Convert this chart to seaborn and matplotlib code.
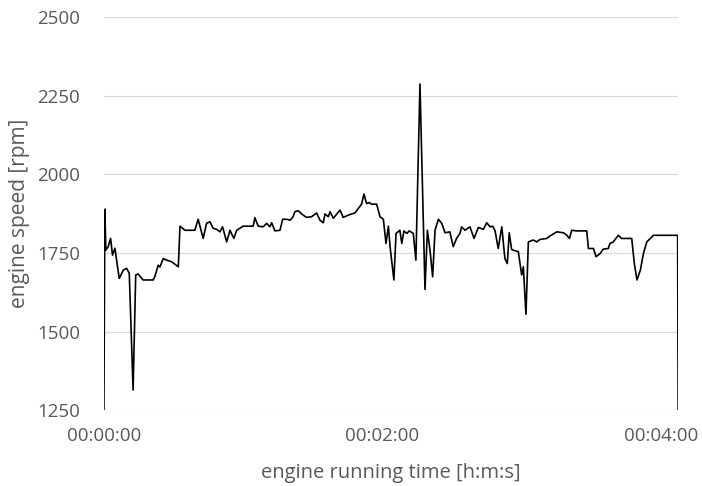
import numpy as np
import pandas as pd
import matplotlib
matplotlib.use('Agg')
import matplotlib.pyplot as plt
import matplotlib.transforms as mtransforms
import seaborn as sns
from matplotlib.ticker import FuncFormatter

# time [s] and engine speed [rpm]
time_s = [0.0, 0.4, 0.8, 1.8, 2.8, 3.6, 4.6, 6.4, 8.1, 9.5, 10.6, 12.2, 13.3, 14.3,
          16.4, 20.6, 21.3, 22.7, 23.4, 24.8, 26.2, 28.3, 31.1, 31.8, 33.9, 38.0,
          39.4, 41.5, 42.9, 44.3, 45.7, 47.1, 48.5, 49.6, 51.3, 52.7, 54.3, 55.5,
          58.2, 62.4, 63.1, 64.5, 66.6, 68.0, 69.4, 70.1, 71.5, 73.6, 74.7, 76.4,
          77.8, 79.1, 79.8, 81.2, 83.3, 84.7, 86.8, 88.9, 90.3, 91.7, 92.4, 93.8,
          94.5, 95.9, 96.6, 98.7, 100.0, 102.1, 103.6, 104.9, 106.3, 107.7, 108.7,
          109.8, 110.9, 111.9, 114.0, 115.4, 116.8, 117.9, 118.9, 119.6, 121.2,
          122.1, 123.7, 124.5, 125.4, 126.6, 127.6, 129.3, 130.4, 132.1, 134.2,
          135.2, 136.3, 137.4, 138.4, 139.8, 141.2, 142.6, 144.6, 146.0, 147.4,
          148.8, 149.5, 150.9, 153.0, 154.7, 156.5, 158.6, 160.0, 161.4, 162.5,
          163.5, 164.8, 166.3, 167.6, 168.6, 169.4, 170.4, 171.8, 173.2, 174.6,
          175.3, 176.4, 177.4, 179.5, 180.9, 182.3, 185.1, 186.5, 189.3, 192.1,
          193.5, 194.6, 195.5, 197.6, 201.8, 202.5, 204.6, 205.7, 207.4, 208.7,
          210.8, 211.5, 212.9, 215.0, 216.4, 220.6, 221.7, 222.8, 224.2, 225.5,
          226.9, 229.7, 239.8, 240.0]
engine_rpm = [1250, 1889, 1759, 1770, 1796, 1743, 1765, 1669, 1695, 1701, 1685, 1314, 1680, 1683,
              1664, 1664, 1675, 1711, 1705, 1732, 1727, 1722, 1706, 1835, 1822, 1822,
              1857, 1796, 1844, 1849, 1828, 1825, 1817, 1833, 1785, 1822, 1796, 1822,
              1835, 1835, 1862, 1835, 1833, 1844, 1833, 1846, 1820, 1822, 1857, 1857,
              1854, 1865, 1881, 1884, 1870, 1863, 1865, 1877, 1854, 1846, 1874, 1865,
              1881, 1860, 1867, 1886, 1863, 1870, 1874, 1877, 1891, 1905, 1937,
              1907, 1910, 1905, 1905, 1865, 1857, 1780, 1835, 1770, 1664,
              1812, 1822, 1780, 1820, 1812, 1820, 1812, 1727, 2287, 1634,
              1822, 1759, 1674, 1822, 1857, 1844, 1814, 1817, 1770, 1796,
              1812, 1833, 1822, 1833, 1796, 1831, 1825, 1846, 1833, 1835,
              1820, 1764, 1833, 1732, 1716, 1814, 1761, 1757, 1754, 1680,
              1706, 1555, 1785, 1791, 1785, 1793, 1796, 1804, 1817, 1814,
              1806, 1796, 1822, 1820, 1820, 1764, 1764, 1738, 1748, 1762,
              1764, 1780, 1785, 1806, 1796, 1796, 1716, 1664, 1695, 1748,
              1785, 1806, 1806, 1250]

y_ticks = [1250, 1500, 1750, 2000, 2250, 2500]
x_ticks = [0, 120, 240]

df = pd.DataFrame({'t': time_s, 'rpm': engine_rpm})

sns.set_style('white')
plt.rcParams['font.family'] = ['Open Sans', 'DejaVu Sans']

fig = plt.figure(figsize=(7.02, 4.86), dpi=100)
ax = fig.add_axes([0.148, 0.156, 0.818, 0.809])
sns.lineplot(data=df, x='t', y='rpm', color='black', linewidth=1.2, ax=ax)

ax.set_xlim(0, 240)
ax.set_ylim(1250, 2500)
ax.set_yticks(y_ticks)
ax.set_xticks(x_ticks)
ax.xaxis.set_major_formatter(FuncFormatter(
    lambda v, p: '%02d:%02d:%02d' % (v // 3600, (v % 3600) // 60, v % 60)))

ax.yaxis.grid(True, color='#d9d9d9', linewidth=0.9)
ax.xaxis.grid(False)
for s in ax.spines.values():
    s.set_visible(False)

grey = '#595959'
ax.tick_params(axis='y', length=0, pad=17, labelsize=13.5, labelcolor=grey)
ax.tick_params(axis='x', length=0, pad=12, labelsize=13.5, labelcolor=grey)
ax.set_xlabel('engine running time [h:m:s]', fontsize=14.5, color=grey, labelpad=13)
ax.set_ylabel('engine speed [rpm]', fontsize=15, color=grey, labelpad=5)

# Excel-style: outer labels nudged so they stay inside the figure
labels = ax.get_xticklabels()
labels[1].set_transform(labels[1].get_transform() +
                        mtransforms.ScaledTranslation(-9 / 100, 0, fig.dpi_scale_trans))
labels[-1].set_transform(labels[-1].get_transform() +
                         mtransforms.ScaledTranslation(-17 / 100, 0, fig.dpi_scale_trans))

fig.savefig('out.png', dpi=100)
